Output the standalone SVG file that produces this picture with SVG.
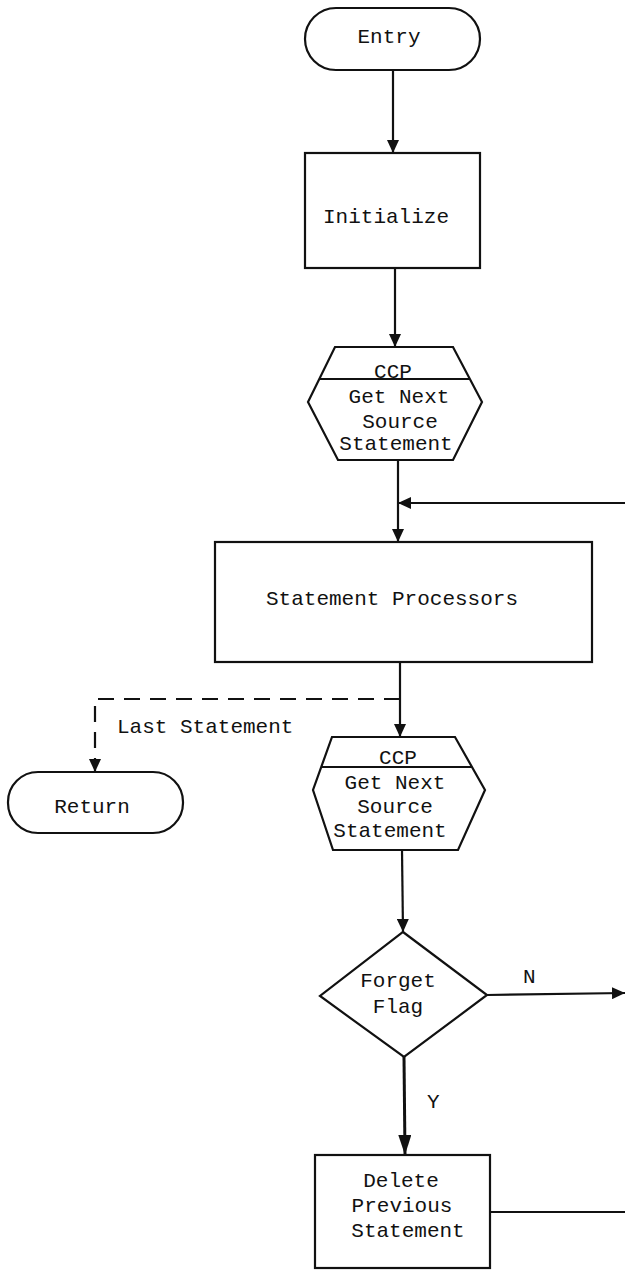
<svg xmlns="http://www.w3.org/2000/svg" width="625" height="1270" viewBox="0 0 625 1270">
  <style>
    .shape { fill: #ffffff; stroke: #111111; stroke-width: 2.2; }
    .line { fill: none; stroke: #111111; stroke-width: 2.2; }
    .bold { stroke-width: 3; }
    .dash { stroke-dasharray: 16 10; }
    text { font-family: "Liberation Mono", "Courier New", monospace; font-size: 21px; fill: #111111; }
    .mid { text-anchor: middle; }
  </style>
  <defs>
    <marker id="arrow" viewBox="0 0 13 12" refX="13" refY="6" markerWidth="13" markerHeight="12" markerUnits="userSpaceOnUse" orient="auto">
      <path d="M0,0 L13,6 L0,12 z" fill="#111111"/>
    </marker>
    <marker id="arrowBig" viewBox="0 0 20 13" refX="20" refY="6.5" markerWidth="20" markerHeight="13" markerUnits="userSpaceOnUse" orient="auto">
      <path d="M0,0 L20,6.5 L0,13 z" fill="#111111"/>
    </marker>
  </defs>

  <rect width="625" height="1270" fill="#ffffff"/>

  <!-- connectors -->
  <g id="connectors">
    <path class="line" d="M393,70 L393,153" marker-end="url(#arrow)"/>
    <path class="line" d="M395,268 L395,347" marker-end="url(#arrow)"/>
    <path class="line" d="M398,460 L398,542" marker-end="url(#arrow)"/>
    <path class="line" d="M625,503 L398,503" marker-end="url(#arrow)"/>
    <path class="line" d="M400,662 L400,737" marker-end="url(#arrow)"/>
    <path class="line dash" d="M400,699 L95,699 L95,772" marker-end="url(#arrow)"/>
    <path class="line" d="M402,850 L403,932" marker-end="url(#arrow)"/>
    <path class="line" d="M487,995 L625,993" marker-end="url(#arrow)"/>
    <path class="line bold" d="M404,1057 L405,1155" marker-end="url(#arrowBig)"/>
    <path class="line" d="M490,1212 L625,1212"/>
    <text x="117" y="733">Last Statement</text>
    <text x="523" y="983">N</text>
    <text x="427" y="1108">Y</text>
  </g>

  <!-- start terminal -->
  <g id="entry">
    <rect class="shape" x="305" y="8" width="175" height="62" rx="31" ry="31"/>
    <text class="mid" x="389" y="43">Entry</text>
  </g>

  <g id="initialize">
    <rect class="shape" x="305" y="153" width="175" height="115"/>
    <text class="mid" x="386" y="223">Initialize</text>
  </g>

  <!-- first read of a source statement -->
  <g id="get-next-1">
    <polygon class="shape" points="335,347 453,347 482,402 453,460 338,460 308,402"/>
    <line class="line" x1="319" y1="379" x2="470" y2="379"/>
    <text class="mid" x="393" y="378">CCP</text>
    <text class="mid" x="399" y="403">Get Next</text>
    <text class="mid" x="400" y="428">Source</text>
    <text class="mid" x="396" y="450">Statement</text>
  </g>

  <g id="statement-processors">
    <rect class="shape" x="215" y="542" width="377" height="120"/>
    <text class="mid" x="392" y="605">Statement Processors</text>
  </g>

  <!-- exit terminal -->
  <g id="return">
    <rect class="shape" x="8" y="772" width="175" height="61" rx="30" ry="30"/>
    <text class="mid" x="92" y="813">Return</text>
  </g>

  <!-- second read of a source statement -->
  <g id="get-next-2">
    <polygon class="shape" points="332,737 455,737 485,790 458,850 333,850 313,790"/>
    <line class="line" x1="321" y1="767" x2="472" y2="767"/>
    <text class="mid" x="398" y="764">CCP</text>
    <text class="mid" x="395" y="789">Get Next</text>
    <text class="mid" x="395" y="813">Source</text>
    <text class="mid" x="390" y="837">Statement</text>
  </g>

  <g id="forget-flag">
    <polygon class="shape" points="403,932 487,995 404,1057 320,996"/>
    <text class="mid" x="398" y="987">Forget</text>
    <text class="mid" x="398" y="1013">Flag</text>
  </g>

  <g id="delete-previous">
    <rect class="shape" x="315" y="1155" width="175" height="113"/>
    <text class="mid" x="401" y="1187">Delete</text>
    <text class="mid" x="402" y="1212">Previous</text>
    <text class="mid" x="408" y="1237">Statement</text>
  </g>
</svg>
